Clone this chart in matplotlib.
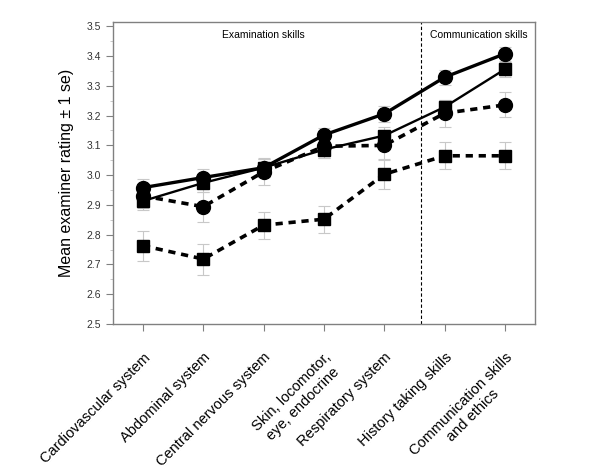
import matplotlib as mpl
import matplotlib.pyplot as plt
import numpy as np

mpl.rcParams["font.family"] = ["Liberation Sans", "DejaVu Sans"]

categories = ["Cardiovascular system", "Abdominal system", "Central nervous system",
              "Skin, locomotor,\neye, endocrine", "Respiratory system",
              "History taking skills", "Communication skills\nand ethics"]

# four groups: solid circles, solid squares, dashed circles, dashed squares
a_mean = [2.958, 2.992, 3.025, 3.135, 3.206, 3.329, 3.408]
a_se = [0.028, 0.03, 0.03, 0.025, 0.026, 0.025, 0.023]
b_mean = [2.913, 2.974, 3.025, 3.086, 3.133, 3.229, 3.356]
b_se = [0.03, 0.03, 0.03, 0.03, 0.028, 0.025, 0.025]
c_mean = [2.930, 2.894, 3.011, 3.097, 3.100, 3.208, 3.236]
c_se = [0.04, 0.05, 0.045, 0.04, 0.05, 0.045, 0.042]
d_mean = [2.763, 2.718, 2.832, 2.852, 3.003, 3.065, 3.065]
d_se = [0.05, 0.052, 0.045, 0.045, 0.05, 0.045, 0.045]

x = np.arange(len(categories))

fig = plt.figure(figsize=(6, 4.75), dpi=100)
ax = fig.add_axes([0.188, 0.318, 0.704, 0.636])

eb = dict(ecolor="#c8c8c8", elinewidth=0.8, capsize=4, capthick=0.8, zorder=1)
ax.errorbar(x, a_mean, yerr=a_se, fmt="none", **eb)
ax.errorbar(x, b_mean, yerr=b_se, fmt="none", **eb)
ax.errorbar(x, c_mean, yerr=c_se, fmt="none", **eb)
ax.errorbar(x, d_mean, yerr=d_se, fmt="none", **eb)

ax.plot(x, a_mean, color="black", lw=2.4, marker="o", ms=10, zorder=3)
ax.plot(x, b_mean, color="black", lw=1.7, marker="s", ms=9, zorder=3)
ax.plot(x, c_mean, color="black", lw=2.6, ls=(0, (2, 1.6)), marker="o", ms=10, zorder=3)
ax.plot(x, d_mean, color="black", lw=2.6, ls=(0, (2, 1.6)), marker="s", ms=9, zorder=3)

ax.axvline(4.6, color="black", lw=0.8, ls=(0, (3, 2)))
ax.text(2.0, 3.47, "Examination skills", ha="center", va="center", fontsize=7.5)
ax.text(5.57, 3.47, "Communication skills", ha="center", va="center", fontsize=7.5)

ax.set_xlim(-0.5, 6.5)
ax.set_ylim(2.5, 3.515)
ax.set_yticks(np.arange(2.5, 3.51, 0.1))
ax.set_yticklabels([f"{v:.1f}" for v in np.arange(2.5, 3.51, 0.1)], fontsize=7.5, color="#333333")
ax.set_yticks(np.arange(2.5, 3.51, 0.05), minor=True)
ax.set_xticks(x)
ax.set_xticklabels(categories, rotation=45, ha="right", rotation_mode="anchor",
                   fontsize=10.5, multialignment="center")
ax.tick_params(axis="both", which="major", color="#808080", length=5, width=0.8)
ax.tick_params(axis="x", which="major", pad=14)
ax.tick_params(axis="y", which="minor", color="#c0c0c0", length=2.5, width=0.6)
for s in ax.spines.values():
    s.set_color("#808080")
    s.set_linewidth(1.0)

ax.set_ylabel("Mean examiner rating \u00b1 1 se)", fontsize=11.5, labelpad=9)

plt.savefig("out.png", dpi=100)
